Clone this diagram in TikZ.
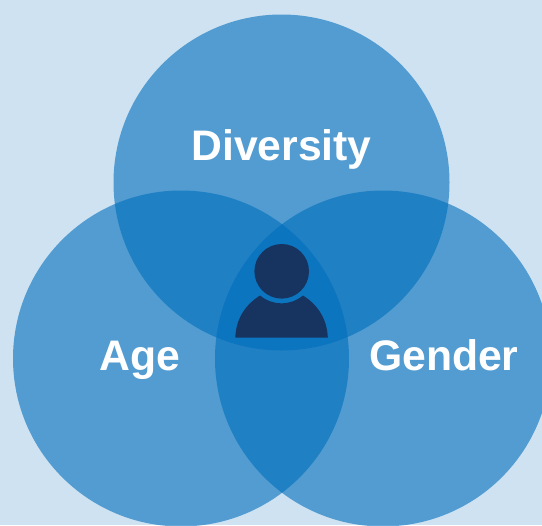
\documentclass[tikz,border=0pt]{standalone}
\usepackage{fontspec}
\setmainfont{Liberation Sans}
\definecolor{bgc}{HTML}{CFE2F2}
\definecolor{circ}{HTML}{006EBC}
\definecolor{person}{HTML}{17335F}
\newlength{\pxu}\setlength{\pxu}{0.75pt}
\tikzset{venn/.style={circle,fill=circ,fill opacity=0.6,minimum size=336\pxu,inner sep=0pt,draw=none},
lab/.style={text=white,anchor=base,font=\bfseries\fontsize{42.7\pxu}{48\pxu}\selectfont,inner sep=0pt}}
\begin{document}
\begin{tikzpicture}[x=0.75pt,y=-0.75pt]
\useasboundingbox (0,0) rectangle (542,525);
\fill[bgc] (0,0) rectangle (542,525);
\clip (0,0) rectangle (542,525);
\node[venn] (top) at (281.5,182.5) {};
\node[venn] (left) at (181,358.5) {};
\node[venn] (right) at (383,358.5) {};
\node[lab] (d) at (281.5,160.5) {Diversity};
\node[lab] (a) at (140.3,370) {Age};
\node[lab] (g) at (443.8,370) {Gender};
\fill[person] (281.7,271.3) circle (27.3);
\fill[person] (235.3,337.5) .. controls (236,319) and (245,305) .. (260,295.5) .. controls (273,306) and (290,306) .. (303,295.5) .. controls (318,305) and (327,319) .. (327.8,337.5) -- cycle;
\end{tikzpicture}
\end{document}
